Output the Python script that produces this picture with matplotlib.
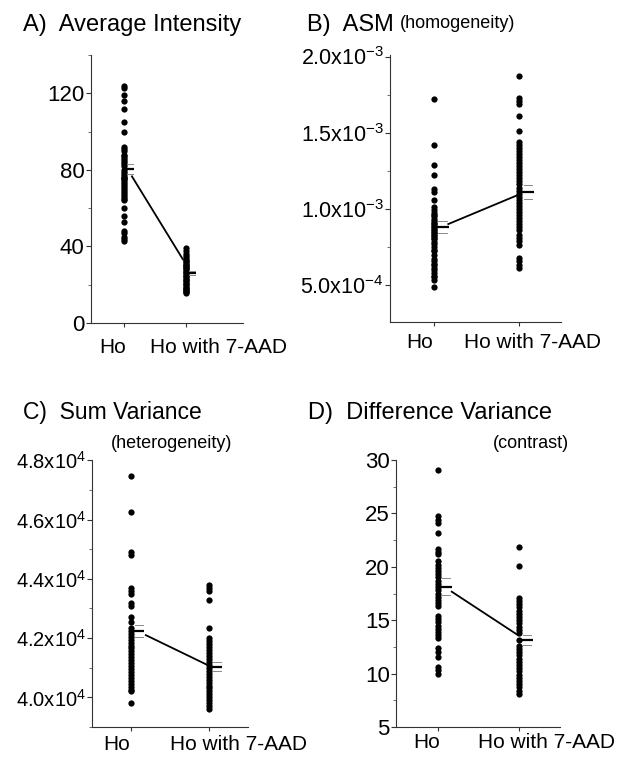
import numpy as np
import matplotlib
matplotlib.use("Agg")
import matplotlib.pyplot as plt
from matplotlib.ticker import MultipleLocator, FixedLocator

plt.rcParams['font.family'] = ['Liberation Sans', 'DejaVu Sans']
plt.rcParams['mathtext.default'] = 'regular'

groups = ["Ho", "Ho with 7-AAD"]

# ---------------- data ----------------
a_ho = [124, 123, 119, 116, 112, 105, 100, 92, 91, 90, 88, 87, 86, 85, 84, 83, 82,
        80, 79, 78, 77, 76, 76, 75, 74, 73, 72, 71, 70, 69, 68, 67, 66, 65, 64,
        60, 56, 53, 48, 47, 45, 44, 43]
a_aad = [39, 37.5, 36, 35, 34, 33, 32.5, 32, 31, 30.5, 30, 29, 28.5, 28, 27, 26.5,
         26, 25, 24.5, 24, 23, 22.5, 22, 21, 20.5, 20, 19, 18.5, 18, 17, 16.5, 16, 15.5]
a_mean = [80.4, 26.1]
a_sem = [2.7, 1.0]
a_link = [76.6, 33.3]

b_ho = [1.72, 1.42, 1.29, 1.22, 1.13, 1.11, 1.06, 1.01, 0.99, 0.97, 0.96, 0.95, 0.93,
        0.92, 0.91, 0.90, 0.89, 0.88, 0.87, 0.86, 0.85, 0.84, 0.83, 0.82, 0.81, 0.80,
        0.78, 0.77, 0.75, 0.73, 0.72, 0.70, 0.67, 0.66, 0.64, 0.63, 0.61, 0.60, 0.58,
        0.56, 0.55, 0.53, 0.49]
b_aad = [1.87, 1.73, 1.71, 1.69, 1.61, 1.51, 1.44, 1.42, 1.40, 1.38, 1.36, 1.34, 1.32,
         1.30, 1.28, 1.26, 1.24, 1.22, 1.20, 1.18, 1.16, 1.14, 1.12, 1.10, 1.08, 1.06,
         1.04, 1.02, 1.00, 0.98, 0.96, 0.94, 0.92, 0.90, 0.88, 0.86, 0.83, 0.81, 0.79,
         0.76, 0.68, 0.66, 0.63, 0.61]
b_scale = 1e-3
b_mean = [0.883, 1.11]
b_sem = [0.04, 0.045]
b_link = [0.90, 1.09]

c_ho = [4.747, 4.625, 4.49, 4.48, 4.37, 4.36, 4.35, 4.32, 4.31, 4.27, 4.255, 4.235,
        4.225, 4.215, 4.205, 4.195, 4.185, 4.175, 4.165, 4.155, 4.145, 4.135, 4.125,
        4.115, 4.105, 4.095, 4.085, 4.075, 4.065, 4.055, 4.045, 4.035, 4.025, 4.02, 3.98]
c_aad = [4.38, 4.37, 4.36, 4.33, 4.235, 4.20, 4.19, 4.18, 4.17, 4.16, 4.15, 4.14, 4.13,
         4.12, 4.11, 4.10, 4.09, 4.08, 4.07, 4.06, 4.05, 4.04, 4.03, 4.02, 4.01, 4.00,
         3.99, 3.98, 3.97, 3.96]
c_scale = 1e4
c_mean = [4.225, 4.103]
c_sem = [0.02, 0.015]
c_link = [4.21, 4.108]

d_ho = [29.1, 24.8, 24.4, 24.1, 23.2, 21.7, 21.4, 21.2, 20.5, 20.2, 19.9, 19.6, 19.3,
        19.0, 18.7, 18.4, 18.1, 17.8, 17.5, 17.2, 16.9, 16.6, 16.3, 15.4, 15.1, 14.8,
        14.5, 14.2, 13.9, 13.6, 13.3, 12.4, 12.0, 11.6, 10.6, 10.3, 10.0]
d_aad = [21.9, 20.1, 17.1, 16.8, 16.5, 16.2, 15.9, 15.6, 15.3, 15.0, 14.7, 14.4, 14.1,
         13.8, 13.1, 12.6, 12.3, 12.0, 11.7, 11.4, 11.1, 10.8, 10.5, 10.2, 9.9, 9.6,
         9.3, 9.0, 8.7, 8.4, 8.1]
d_mean = [18.14, 13.15]
d_sem = [0.8, 0.45]
d_link = [17.67, 13.6]

a_ticks = [0, 40, 80, 120]
a_labels = ["0", "40", "80", "120"]
b_ticks = [5e-4, 1.0e-3, 1.5e-3, 2.0e-3]
b_labels = ["5.0x10$^{-4}$", "1.0x10$^{-3}$", "1.5x10$^{-3}$", "2.0x10$^{-3}$"]
c_ticks = [4.0e4, 4.2e4, 4.4e4, 4.6e4, 4.8e4]
c_labels = ["4.0x10$^{4}$", "4.2x10$^{4}$", "4.4x10$^{4}$", "4.6x10$^{4}$", "4.8x10$^{4}$"]
d_ticks = [5, 10, 15, 20, 25, 30]
d_labels = ["5", "10", "15", "20", "25", "30"]

W, H = 619, 761
fig = plt.figure(figsize=(W / 100, H / 100), dpi=100)


def px_axes(l, t, r, b):
    return fig.add_axes([l / W, 1 - b / H, (r - l) / W, (b - t) / H])


def panel(ax, ho, aad, scale, mean, sem, link, link_x, ylim, xlim, ticks, labels, minor,
          tsize=16):
    xs = [1, 2]
    for x, vals in zip(xs, [ho, aad]):
        v = np.asarray(vals) * scale
        ax.plot(np.full(len(v), x), v, 'o', ms=4.5, color='black', mec='none', zorder=3)
    for x, m, s in zip(xs, mean, sem):
        ax.plot([x, x + 0.17], [m * scale, m * scale], color='black', lw=1.6,
                solid_capstyle='butt', zorder=4)
        for sgn in (1, -1):
            ax.plot([x + 0.05, x + 0.15], [(m + sgn * s) * scale] * 2, color='#888888',
                    lw=0.7, zorder=4)
    ax.plot(link_x, np.asarray(link) * scale, color='black', lw=1.3, zorder=4)
    ax.set_xlim(*xlim)
    ax.set_ylim(*ylim)
    ax.spines['top'].set_visible(False)
    ax.spines['right'].set_visible(False)
    for sp in ('left', 'bottom'):
        ax.spines[sp].set_linewidth(0.8)
        ax.spines[sp].set_color('#333333')
    ax.set_xticks(xs)
    ax.set_xticklabels(["", ""])
    ax.yaxis.set_major_locator(FixedLocator(ticks))
    ax.set_yticklabels(labels)
    ax.yaxis.set_minor_locator(MultipleLocator(minor))
    ax.tick_params(axis='y', which='major', length=3.5, width=0.8, pad=1, labelsize=tsize,
                   color='#333333')
    ax.tick_params(axis='y', which='minor', length=2, width=0.6, color='#555555')
    ax.tick_params(axis='x', which='major', length=3, width=0.8, color='#333333')


axA = px_axes(91, 55, 243, 323)
panel(axA, a_ho, a_aad, 1, a_mean, a_sem, a_link, [1.13, 1.95], (0, 140),
      (0.47, 2.92), a_ticks, a_labels, 20)

axB = px_axes(390, 55, 561, 322)
panel(axB, b_ho, b_aad, b_scale, b_mean, b_sem, b_link, [1.165, 1.98], (2.57e-4, 2.01e-3),
      (0.48, 2.49), b_ticks, b_labels, 2.5e-4, tsize=15.5)

axC = px_axes(92, 460, 248, 727)
panel(axC, c_ho, c_aad, c_scale, c_mean, c_sem, c_link, [1.19, 1.99], (3.9e4, 4.801e4),
      (0.5, 2.5), c_ticks, c_labels, 1e3, tsize=14.5)

axD = px_axes(396, 460, 560, 727)
panel(axD, d_ho, d_aad, 1, d_mean, d_sem, d_link, [1.17, 1.99], (5, 30),
      (0.48, 2.51), d_ticks, d_labels, 2.5)


def ftext(x, y, s, size, ha='left', va='center'):
    fig.text(x / W, 1 - y / H, s, fontsize=size, ha=ha, va=va)


# category labels
for (xh, xa, y) in [(113, 218, 347), (420, 533, 342), (117, 239, 745), (427, 547, 742)]:
    ftext(xh, y, groups[0], 15, ha='center')
    ftext(xa, y, groups[1], 15, ha='center')

# titles
ftext(23, 25, "A)  Average Intensity", 17)
ftext(307, 25, "B)  ASM", 17)
ftext(400, 23, "(homogeneity)", 13)
ftext(23, 413, "C)  Sum Variance", 16.5)
ftext(172, 443, "(heterogeneity)", 13, ha='center')
ftext(308, 413, "D)  Difference Variance", 17)
ftext(531, 443, "(contrast)", 13, ha='center')

fig.savefig("out.png", dpi=100)
